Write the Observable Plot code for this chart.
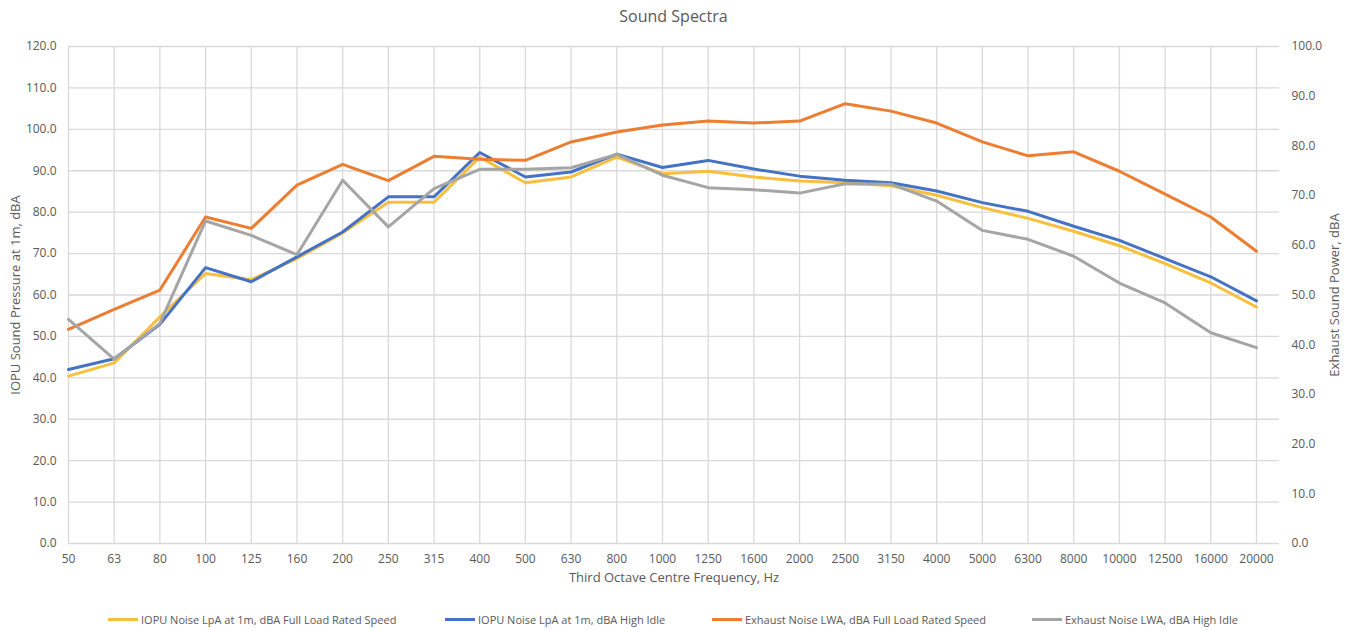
<!DOCTYPE html>
<html>
<head>
<meta charset="utf-8">
<script src="https://cdn.jsdelivr.net/npm/d3@7"></script>
<script src="https://cdn.jsdelivr.net/npm/@observablehq/plot@0.6"></script>
<style>
  html, body { margin: 0; padding: 0; background: #fff; }
  #wrap { position: relative; width: 1355px; height: 630px; font-family: "Open Sans", sans-serif; color: #595959; }
  #chart { position: absolute; left: 0; top: 0; }
  #title { position: absolute; left: 0; width: 1347px; top: 5px; text-align: center; font-size: 16px; color: #595959; }
  .leg { position: absolute; top: 611px; height: 16px; display: flex; align-items: center; font-size: 11px; color: #595959; white-space: nowrap; }
  .sw { display: inline-block; width: 30px; height: 3px; margin-right: 3px; }
</style>
</head>
<body>
<div id="wrap">
  <div id="chart"></div>
  <div id="title">Sound Spectra</div>
  <div id="legend"></div>
</div>
<script>
const freqs = ["50","63","80","100","125","160","200","250","315","400","500","630","800","1000","1250","1600","2000","2500","3150","4000","5000","6300","8000","10000","12500","16000","20000"];
// Left axis: IOPU sound pressure, dBA
const iopuFull = [40.4,43.6,54.7,65.2,63.7,68.8,75.0,82.4,82.4,93.3,87.1,88.5,93.3,89.3,89.9,88.5,87.5,87.1,86.4,84.1,81.1,78.5,75.4,71.9,67.6,62.9,57.1];
const iopuIdle = [42.0,44.6,52.9,66.6,63.2,69.2,75.2,83.7,83.7,94.4,88.5,89.7,94.0,90.8,92.5,90.4,88.7,87.7,87.1,85.1,82.3,80.2,76.6,73.2,68.8,64.4,58.6];
// Right axis: exhaust sound power, dBA
const exhFull = [43.1,47.1,51.0,65.7,63.4,72.1,76.3,73.0,77.9,77.3,77.1,80.8,82.8,84.2,85.0,84.6,85.0,88.5,87.0,84.6,80.8,78.0,78.8,74.9,70.3,65.7,58.8];
const exhIdle = [45.1,37.1,44.3,64.9,62.0,58.1,73.1,63.7,71.4,75.3,75.3,75.6,78.3,74.1,71.6,71.2,70.5,72.4,72.3,68.9,63.0,61.2,57.8,52.4,48.4,42.4,39.4];

const seriesNames = [
  "IOPU Noise LpA at 1m, dBA Full Load Rated Speed",
  "IOPU Noise LpA at 1m, dBA High Idle",
  "Exhaust Noise LWA, dBA Full Load Rated Speed",
  "Exhaust Noise LWA, dBA High Idle"
];
const colors = ["#F8BF3C", "#4472C4", "#ED7D31", "#A5A5A5"];
const leftTicks = d3.range(0, 121, 10);
const rightTicks = d3.range(0, 101, 10);
const k = 120 / 100; // right axis -> left axis units
const idx = freqs.map((f, i) => i);

const rows = [];
const sets = [[iopuFull, 1], [iopuIdle, 1], [exhFull, k], [exhIdle, k]];
sets.forEach(([arr, f], s) => arr.forEach((v, i) => rows.push({i, y: v * f, series: seriesNames[s]})));

const plot = Plot.plot({
  width: 1355,
  height: 600,
  marginTop: 46,
  marginBottom: 57,
  marginLeft: 68,
  marginRight: 76,
  style: {fontFamily: "Open Sans, sans-serif", fontSize: "12px", color: "#595959", background: "transparent"},
  x: {type: "linear", domain: [0, freqs.length - 1], range: [68, 1256]},
  y: {domain: [0, 120]},
  color: {domain: seriesNames, range: colors},
  marks: [
    Plot.gridY(leftTicks, {stroke: "#d9d9d9", strokeOpacity: 1, strokeWidth: 1.3}),
    Plot.gridX(idx, {stroke: "#d9d9d9", strokeOpacity: 1, strokeWidth: 1.3}),
    Plot.axisY(leftTicks, {anchor: "left", tickSize: 0, tickPadding: 12, tickFormat: d => d.toFixed(1), label: null}),
    Plot.axisY(rightTicks.map(v => v * k), {anchor: "right", tickSize: 0, tickPadding: 12, tickFormat: d => (d / k).toFixed(1), label: null}),
    Plot.axisX(idx, {tickSize: 0, tickPadding: 11, tickFormat: i => freqs[i], label: null}),
    Plot.lineY(rows, {x: "i", y: "y", z: "series", stroke: "series", strokeWidth: 3, strokeLinejoin: "round", strokeLinecap: "round"}),
    Plot.text(["Third Octave Centre Frequency, Hz"], {frameAnchor: "bottom", dy: 38, fontSize: 13, fill: "#595959"}),
    Plot.text(["IOPU Sound Pressure at 1m, dBA"], {frameAnchor: "left", dx: -53, rotate: -90, textAnchor: "middle", fontSize: 13, fill: "#595959"}),
    Plot.text(["Exhaust Sound Power, dBA"], {frameAnchor: "right", dx: 55, rotate: -90, textAnchor: "middle", fontSize: 13, fill: "#595959"})
  ]
});
document.getElementById("chart").appendChild(plot);

const legLefts = [108, 445, 712, 1032];
const legend = document.getElementById("legend");
seriesNames.forEach((n, i) => {
  const d = document.createElement("div");
  d.className = "leg";
  d.style.left = legLefts[i] + "px";
  const sw = document.createElement("span");
  sw.className = "sw";
  sw.style.background = colors[i];
  d.appendChild(sw);
  d.appendChild(document.createTextNode(n));
  legend.appendChild(d);
});
</script>
</body>
</html>
